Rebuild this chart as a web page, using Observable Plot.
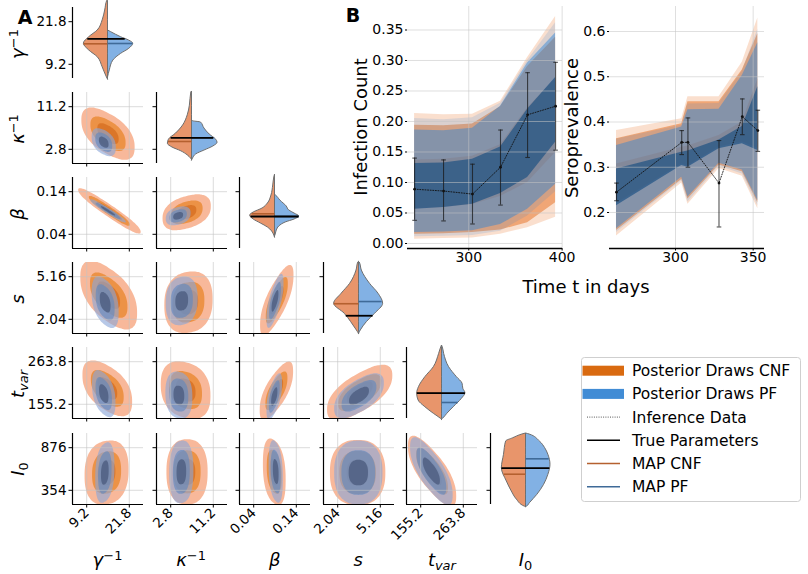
<!DOCTYPE html>
<html>
<head>
<meta charset="utf-8">
<script src="https://cdn.jsdelivr.net/npm/d3@7"></script>
<script src="https://cdn.jsdelivr.net/npm/@observablehq/plot@0.6"></script>
<style>
  html, body { margin: 0; padding: 0; background: #fff; }
  #fig { position: relative; width: 808px; height: 574px; overflow: hidden;
         font-family: "DejaVu Sans", sans-serif; color: #000; }
  .lbl { position: absolute; white-space: nowrap; line-height: 1; }
  .lbl sup { font-size: 0.72em; vertical-align: 0.5em; font-style: normal; line-height: 0; }
  .lbl sub { font-size: 0.72em; vertical-align: -0.3em; line-height: 0; }
</style>
</head>
<body>
<div id="fig"></div>
<script>
// ---------------------------------------------------------------------------
// Parameters of the SIR-type model (corner plot, panel A)
// ---------------------------------------------------------------------------
const paramNames  = ["<i>γ</i><sup>−1</sup>", "<i>κ</i><sup>−1</sup>", "<i>β</i>", "<i>s</i>",
                     "<i>t</i><sub><i>var</i></sub>", "<i>I</i><sub>0</sub>"];
const paramDomains = [[5, 26], [0, 14], [0.00667, 0.17333], [1, 6.2], [119, 300], [180, 1050]];
const paramTicks   = [[9.2, 21.8], [2.8, 11.2], [0.04, 0.14], [2.04, 5.16], [155.2, 263.8], [354, 876]];
const paramTickLabels = [["9.2", "21.8"], ["2.8", "11.2"], ["0.04", "0.14"], ["2.04", "5.16"],
                         ["155.2", "263.8"], ["354", "876"]];

// marginal posterior densities: [value, half width] for each parameter
const gammaCNF = [[28.3, 0], [28.0, 0.02], [25.1, 0.08], [22.2, 0.15], [19.2, 0.29], [17.2, 0.53], [15.3, 0.68],
                  [13.3, 0.53], [11.3, 0.29], [8.3, 0.15], [5.3, 0.03], [4.7, 0]];
const gammaPF  = [[19.2, 0], [18.7, 0.09], [17.2, 0.37], [16.2, 0.6], [15.3, 0.71], [13.8, 0.6], [12.3, 0.37],
                  [10.3, 0.15], [7.4, 0.05], [5.3, 0]];
const kappaCNF = [[14.2, 0], [14.0, 0.02], [11.4, 0.06], [9.5, 0.12], [7.5, 0.25], [5.9, 0.45], [4.7, 0.65],
                  [3.9, 0.68], [3.15, 0.55], [2.4, 0.3], [1.6, 0.12], [1.0, 0.03], [0.7, 0]];
const kappaPF  = [[8.5, 0], [8.3, 0.05], [8.1, 0.25], [6.9, 0.35], [5.7, 0.5], [4.7, 0.68], [4.1, 0.72],
                  [3.35, 0.6], [2.55, 0.35], [1.8, 0.12], [1.0, 0.03], [0.6, 0]];
const betaCNF  = [[0.18, 0], [0.1733, 0.02], [0.1546, 0.05], [0.131, 0.1], [0.1123, 0.2], [0.1006, 0.35],
                  [0.0912, 0.6], [0.0841, 0.7], [0.0747, 0.6], [0.0654, 0.4], [0.056, 0.2], [0.0466, 0.08],
                  [0.0372, 0.02], [0.0325, 0]];
const betaPF   = [[0.133, 0], [0.131, 0.03], [0.1193, 0.15], [0.1053, 0.33], [0.096, 0.4], [0.0888, 0.55],
                  [0.0818, 0.68], [0.0747, 0.55], [0.0677, 0.3], [0.0583, 0.12], [0.049, 0.05],
                  [0.0395, 0.02], [0.035, 0]];
const sCNF     = [[6.25, 0], [6.2, 0.02], [5.61, 0.07], [4.64, 0.25], [3.91, 0.49], [3.18, 0.7], [2.44, 0.4],
                  [1.83, 0.22], [1.22, 0.06], [0.98, 0]];
const sPF      = [[6.25, 0], [6.2, 0.02], [5.61, 0.08], [4.64, 0.31], [3.91, 0.55], [3.18, 0.68], [2.44, 0.45],
                  [1.83, 0.22], [1.22, 0.05], [0.98, 0]];
const tVarCNF  = [[305, 0], [300.8, 0.02], [283.9, 0.08], [249.8, 0.23], [224.3, 0.47], [198.8, 0.65],
                  [182, 0.7], [164.9, 0.66], [147.8, 0.47], [131, 0.23], [118.3, 0.03], [116, 0]];
const tVarPF   = [[305, 0], [300.8, 0.02], [283.9, 0.06], [249.8, 0.2], [224.3, 0.42], [207.5, 0.58],
                  [194.7, 0.6], [183.5, 0.66], [169.2, 0.56], [147.8, 0.33], [131, 0.15], [118.3, 0.03], [116, 0]];
const i0CNF    = [[1050, 0], [1038, 0.1], [992, 0.36], [952, 0.56], [789, 0.62], [625, 0.68], [462, 0.54],
                  [339, 0.4], [241, 0.26], [155, 0.04], [150, 0]];
const i0PF     = [[1050, 0], [1038, 0.1], [952, 0.39], [870, 0.54], [789, 0.63], [666, 0.69], [544, 0.63],
                  [421, 0.51], [299, 0.32], [196, 0.11], [155, 0.03], [150, 0]];
const densitiesCNF = [gammaCNF, kappaCNF, betaCNF, sCNF, tVarCNF, i0CNF];
const densitiesPF  = [gammaPF, kappaPF, betaPF, sPF, tVarPF, i0PF];

// true parameters and maximum a posteriori estimates
const trueValues = [16.7, 5.07, 0.0818, 2.30, 183.5, 625];
const mapCNF     = [15.26, 4.34, 0.0881, 3.18, 183.5, 551];
const mapPF      = [15.35, 5.07, 0.0818, 3.34, 159.8, 740];

// pairwise posterior contours: [row, col, centre x, centre y, spread x, spread y, correlation]
const contoursCNF = [
  [1, 0, 15.5, 5.88, 7.88, 4.9, -0.55],
  [2, 0, 15.92, 0.095, 9.24, 0.0517, -0.95],
  [2, 1, 5.95, 0.0917, 4.76, 0.0408, 0.35],
  [3, 0, 15.71, 3.81, 8.4, 2.39, -0.55],
  [3, 1, 6.3, 3.29, 4.76, 2.24, 0.1],
  [3, 2, 0.0942, 3.44, 0.0392, 2.44, 0.75],
  [4, 0, 15.29, 195.9, 7.35, 67.9, -0.5],
  [4, 1, 5.74, 191.4, 4.9, 72.4, -0.2],
  [4, 2, 0.0933, 189.6, 0.0392, 70.6, 0.7],
  [4, 3, 3.65, 185.1, 2.39, 67, 0.65],
  [5, 0, 15.08, 571.5, 6.51, 391.5, 0.1],
  [5, 1, 6.02, 580, 4.06, 400, 0],
  [5, 2, 0.0883, 580, 0.0267, 400, -0.25],
  [5, 3, 3.5, 571.5, 2.03, 400, 0],
  [5, 4, 184.2, 589, 61.5, 409, -0.75]
];
const contoursPF = [
  [1, 0, 14.24, 4.2, 3.57, 2.66, -0.4],
  [2, 0, 15.5, 0.095, 5.25, 0.0267, -0.96],
  [2, 1, 4.27, 0.0833, 2.45, 0.0217, 0.3],
  [3, 0, 14.66, 3.29, 3.99, 1.82, -0.4],
  [3, 1, 4.97, 3.39, 3.15, 1.77, 0.1],
  [3, 2, 0.09, 3.39, 0.02, 1.87, 0.7],
  [4, 0, 14.24, 182.4, 3.47, 57.9, -0.4],
  [4, 1, 4.41, 178.7, 2.66, 59.7, -0.1],
  [4, 2, 0.0883, 175.1, 0.0183, 56.1, 0.6],
  [4, 3, 3.6, 176.9, 1.82, 54.3, 0.6],
  [5, 0, 14.56, 571.5, 2.84, 365.4, 0.2],
  [5, 1, 4.9, 580, 2.38, 383, 0.05],
  [5, 2, 0.0917, 584, 0.0167, 374, -0.25],
  [5, 3, 3.55, 571.5, 1.77, 391.5, 0],
  [5, 4, 182.4, 589, 54.3, 391.5, -0.75]
];

// ---------------------------------------------------------------------------
// Posterior predictive of the observables (panel B)
// ---------------------------------------------------------------------------
const infTimes  = [242, 273, 304, 334, 363, 393];
const infObs    = [0.089, 0.086, 0.081, 0.125, 0.211, 0.225];
const infObsLo  = [0.038, 0.037, 0.032, 0.063, 0.141, 0.153];
const infObsHi  = [0.140, 0.137, 0.130, 0.186, 0.280, 0.297];
const infCnf95Lo = [0.007, 0.008, 0.009, 0.015, 0.026, 0.043];
const infCnf95Hi = [0.213, 0.211, 0.212, 0.233, 0.305, 0.372];
const infCnf90Lo = [0.015, 0.016, 0.018, 0.022, 0.034, 0.067];
const infCnf90Hi = [0.194, 0.193, 0.196, 0.224, 0.290, 0.338];
const infCnf50Lo = [0.057, 0.059, 0.064, 0.077, 0.100, 0.149];
const infCnf50Hi = [0.137, 0.138, 0.143, 0.162, 0.222, 0.270];
const infPf95Lo  = [0.011, 0.012, 0.013, 0.020, 0.045, 0.085];
const infPf95Hi  = [0.205, 0.203, 0.206, 0.230, 0.300, 0.362];
const infPf90Lo  = [0.018, 0.019, 0.021, 0.031, 0.056, 0.097];
const infPf90Hi  = [0.186, 0.185, 0.189, 0.225, 0.296, 0.345];
const infPf50Lo  = [0.056, 0.059, 0.0645, 0.082, 0.108, 0.166];
const infPf50Hi  = [0.131, 0.132, 0.138, 0.158, 0.220, 0.272];
const infYTicks  = [0, 0.05, 0.10, 0.15, 0.20, 0.25, 0.30, 0.35];

const seroTimes  = [262, 304, 308, 328, 343, 353];
const seroObs    = [0.245, 0.355, 0.355, 0.265, 0.412, 0.381];
const seroObsLo  = [0.226, 0.328, 0.300, 0.168, 0.372, 0.335];
const seroObsHi  = [0.265, 0.381, 0.409, 0.359, 0.451, 0.426];
const seroCnf95Lo = [0.148, 0.265, 0.218, 0.297, 0.280, 0.208];
const seroCnf95Hi = [0.381, 0.407, 0.456, 0.456, 0.532, 0.630];
const seroCnf90Lo = [0.160, 0.273, 0.230, 0.305, 0.290, 0.222];
const seroCnf90Hi = [0.363, 0.396, 0.445, 0.445, 0.515, 0.595];
const seroCnf50Lo = [0.220, 0.307, 0.303, 0.345, 0.356, 0.342];
const seroCnf50Hi = [0.307, 0.344, 0.347, 0.370, 0.400, 0.495];
const seroPf95Lo  = [0.156, 0.270, 0.223, 0.302, 0.285, 0.215];
const seroPf95Hi  = [0.362, 0.393, 0.440, 0.441, 0.512, 0.605];
const seroPf90Lo  = [0.164, 0.278, 0.234, 0.309, 0.294, 0.226];
const seroPf90Hi  = [0.348, 0.389, 0.427, 0.428, 0.503, 0.575];
const seroPf50Lo  = [0.215, 0.304, 0.300, 0.341, 0.352, 0.337];
const seroPf50Hi  = [0.296, 0.333, 0.336, 0.360, 0.390, 0.478];
const seroYTicks  = [0.2, 0.3, 0.4, 0.5, 0.6];

const legendLabels = ["Posterior Draws CNF", "Posterior Draws PF", "Inference Data",
                      "True Parameters", "MAP CNF", "MAP PF"];

// ---------------------------------------------------------------------------
// Styling
// ---------------------------------------------------------------------------
const FONT = "DejaVu Sans, sans-serif";
const CNF_COLOR = "#d96a10", PF_COLOR = "#418cd5";
const VIOLIN_CNF = "#e8956b", VIOLIN_PF = "#82b1e4", VIOLIN_EDGE = "#6f6f6f";
const MAP_CNF_COLOR = "#b5602f", MAP_PF_COLOR = "#3f6a98";
const GRID = "#c4c4c4";
const CNF_LEVELS = [{k: 1, fill: "#f6a078", opacity: 0.75},
                    {k: 0.66, fill: "#e8862a", opacity: 0.75},
                    {k: 0.4, fill: "#d46b1c", opacity: 0.7}];
const PF_LEVELS  = [{k: 1, fill: "#8ba6d9", opacity: 0.62},
                    {k: 0.7, fill: "#5d87bf", opacity: 0.6},
                    {k: 0.4, fill: "#4a5a7c", opacity: 0.75}];

const fig = document.getElementById("fig");

function put(node, left, top) {
  node.style.position = "absolute";
  node.style.left = left + "px";
  node.style.top = top + "px";
  fig.appendChild(node);
  return node;
}

function label(html, cx, cy, size, rotate = 0, weight = "normal") {
  const d = document.createElement("div");
  d.className = "lbl";
  d.innerHTML = html;
  d.style.fontSize = size + "px";
  d.style.fontWeight = weight;
  d.style.left = cx + "px";
  d.style.top = cy + "px";
  d.style.transform = `translate(-50%, -50%) rotate(${rotate}deg)`;
  fig.appendChild(d);
}

// half width of a density profile at value v (linear between samples)
function widthAt(profile, v) {
  for (let i = 0; i < profile.length - 1; i++) {
    const [v0, w0] = profile[i], [v1, w1] = profile[i + 1];
    if ((v - v0) * (v - v1) <= 0) return v0 === v1 ? Math.max(w0, w1) : w0 + (w1 - w0) * (v - v0) / (v1 - v0);
  }
  return 0;
}

// closed contour outline of a correlated 2-D spread, scaled by level k
function contourOutline([, , cx, cy, sx, sy, rho], k) {
  const q = Math.sqrt(1 - rho * rho), n = 2.4, pts = [];
  for (let i = 0; i < 72; i++) {
    const a = 2 * Math.PI * i / 72, c = Math.cos(a), s = Math.sin(a);
    const u = Math.sign(c) * Math.abs(c) ** (2 / n), w = Math.sign(s) * Math.abs(s) ** (2 / n);
    pts.push({x: cx + k * sx * u, y: cy + k * sy * (rho * u + q * w)});
  }
  return pts;
}

// ---------------------------------------------------------------------------
// Panel A: corner plot
// ---------------------------------------------------------------------------
const FRAME = 71, PAD = 8;
const colLeft = c => 72 + 83.6 * c;
const rowTop = r => 7 + 85.1 * r;
const plotStyle = {fontFamily: FONT, fontSize: "13.5px", background: "transparent", overflow: "visible", color: "#000"};

function tickFormatter(i) {
  const m = new Map(paramTicks[i].map((v, j) => [v, paramTickLabels[i][j]]));
  return d => m.get(d);
}

function cornerPanel(r, c) {
  const diag = r === c;
  const xDomain = diag ? [-1, 1] : paramDomains[c];
  const yDomain = paramDomains[r];
  const marks = [];

  if (diag) {
    const cnf = densitiesCNF[r].map(([v, w]) => ({v, w})).sort((a, b) => a.v - b.v);
    const pf = densitiesPF[r].map(([v, w]) => ({v, w})).sort((a, b) => a.v - b.v);
    marks.push(Plot.areaX(cnf, {y: "v", x1: d => -d.w, x2: 0, fill: VIOLIN_CNF, stroke: VIOLIN_EDGE,
                                strokeWidth: 1, curve: "monotone-y"}));
    marks.push(Plot.areaX(pf, {y: "v", x1: 0, x2: d => d.w, fill: VIOLIN_PF, stroke: VIOLIN_EDGE,
                               strokeWidth: 1, curve: "monotone-y"}));
    const mc = mapCNF[r], mp = mapPF[r], tv = trueValues[r];
    marks.push(Plot.ruleY([mc], {x1: -widthAt(densitiesCNF[r], mc), x2: 0, stroke: MAP_CNF_COLOR, strokeWidth: 1.6}));
    marks.push(Plot.ruleY([mp], {x1: 0, x2: widthAt(densitiesPF[r], mp), stroke: MAP_PF_COLOR, strokeWidth: 1.6}));
    marks.push(Plot.ruleY([tv], {x1: -widthAt(densitiesCNF[r], tv), x2: widthAt(densitiesPF[r], tv),
                                 stroke: "#000", strokeWidth: 1.8}));
    marks.push(Plot.ruleX([-1], {stroke: "#000", strokeWidth: 1.2}));
  } else {
    const cCNF = contoursCNF.find(d => d[0] === r && d[1] === c);
    const cPF = contoursPF.find(d => d[0] === r && d[1] === c);
    for (const L of CNF_LEVELS)
      marks.push(Plot.line(contourOutline(cCNF, L.k), {x: "x", y: "y", fill: L.fill, fillOpacity: L.opacity,
                                                      stroke: "none", curve: "catmull-rom-closed", clip: true}));
    for (const L of PF_LEVELS)
      marks.push(Plot.line(contourOutline(cPF, L.k), {x: "x", y: "y", fill: L.fill, fillOpacity: L.opacity,
                                                     stroke: "none", curve: "catmull-rom-closed", clip: true}));
    marks.push(Plot.gridX({ticks: paramTicks[c], stroke: GRID, strokeOpacity: 0.6, strokeWidth: 1}));
    marks.push(Plot.gridY({ticks: paramTicks[r], stroke: GRID, strokeOpacity: 0.6, strokeWidth: 1}));
    marks.push(Plot.ruleX([xDomain[0]], {stroke: "#000", strokeWidth: 1.2}));
    marks.push(Plot.ruleY([yDomain[0]], {stroke: "#000", strokeWidth: 1.2}));
    marks.push(Plot.axisX({ticks: paramTicks[c], tickSize: 3.5, tickPadding: 2.5, label: null,
                           tickRotate: r === 5 ? -45 : 0,
                           tickFormat: r === 5 ? tickFormatter(c) : () => ""}));
  }
  marks.push(Plot.axisY({ticks: paramTicks[r], tickSize: 3.5, tickPadding: 2.5, label: null,
                         tickFormat: c === 0 ? tickFormatter(r) : () => ""}));

  const svg = Plot.plot({
    width: FRAME + 2 * PAD, height: FRAME + 2 * PAD, margin: PAD,
    x: {domain: xDomain, axis: null, label: null},
    y: {domain: yDomain, axis: null, label: null},
    style: plotStyle,
    marks
  });
  put(svg, colLeft(c) - PAD, rowTop(r) - PAD);
}

for (let r = 0; r < 6; r++) for (let c = 0; c <= r; c++) cornerPanel(r, c);

// parameter names along the left and bottom
for (let i = 0; i < 6; i++) {
  label(paramNames[i], 18, rowTop(i) + FRAME / 2 + 1, 18, -90);
  label(paramNames[i], colLeft(i) + FRAME / 2, 560, 18);
}

// ---------------------------------------------------------------------------
// Panel B: posterior predictive bands with the inference data
// ---------------------------------------------------------------------------
const capSymbol = {draw(ctx, size) { const h = Math.sqrt(size / Math.PI); ctx.moveTo(-h, 0); ctx.lineTo(h, 0); }};

function seriesPanel(o) {
  const rows = o.times.map((t, i) => ({t, obs: o.obs[i], lo: o.lo[i], hi: o.hi[i]}));
  const bands = [
    [o.cnf95Lo, o.cnf95Hi, "#e66e1e", 0.22],
    [o.cnf90Lo, o.cnf90Hi, "#e66e1e", 0.5],
    [o.cnf50Lo, o.cnf50Hi, "#e66e1e", 0.35],
    [o.pf95Lo,  o.pf95Hi,  "#2882d7", 0.15],
    [o.pf90Lo,  o.pf90Hi,  "#2882d7", 0.45],
    [o.pf50Lo,  o.pf50Hi,  "#0e477e", 0.6]
  ];
  const marks = bands.map(([lo, hi, fill, op]) =>
    Plot.areaY(o.times.map((t, i) => ({t, lo: lo[i], hi: hi[i]})),
               {x: "t", y1: "lo", y2: "hi", fill, fillOpacity: op}));
  marks.push(
    Plot.gridY({ticks: o.yTicks, stroke: GRID, strokeOpacity: 0.55, strokeWidth: 1}),
    Plot.gridX({ticks: o.xTicks, stroke: GRID, strokeOpacity: 0.55, strokeWidth: 1}),
    Plot.ruleY([o.yDomain[0]], {stroke: "#000", strokeWidth: 1.3}),
    Plot.line(rows, {x: "t", y: "obs", stroke: "#111", strokeWidth: 0.9, strokeDasharray: "1,1.6"}),
    Plot.ruleX(rows, {x: "t", y1: "lo", y2: "hi", stroke: "#1a1a1a", strokeOpacity: 0.75, strokeWidth: 1.1}),
    Plot.dot(rows, {x: "t", y: "lo", symbol: capSymbol, r: 2.3, fill: "none", stroke: "#1a1a1a", strokeOpacity: 0.75, strokeWidth: 1.1}),
    Plot.dot(rows, {x: "t", y: "hi", symbol: capSymbol, r: 2.3, fill: "none", stroke: "#1a1a1a", strokeOpacity: 0.75, strokeWidth: 1.1}),
    Plot.dot(rows, {x: "t", y: "obs", r: 1.4, fill: "#111", stroke: "none"}),
    Plot.axisY({ticks: o.yTicks, tickFormat: o.yFormat, tickSize: 2, tickPadding: 2, label: null, fontSize: 14}),
    Plot.axisX({ticks: o.xTicks, tickSize: 2.5, tickPadding: 1.5, label: null, fontSize: 14})
  );
  const ml = 45, mr = 8, mt = 4, mb = 24;
  const svg = Plot.plot({
    width: o.frameWidth + ml + mr, height: o.frameHeight + mt + mb,
    marginLeft: ml, marginRight: mr, marginTop: mt, marginBottom: mb,
    x: {domain: o.xDomain, axis: null, label: null},
    y: {domain: o.yDomain, axis: null, label: null},
    style: {...plotStyle, fontSize: "14px"},
    marks
  });
  put(svg, o.left - ml, o.top - mt);
}

seriesPanel({
  times: infTimes, obs: infObs, lo: infObsLo, hi: infObsHi,
  cnf95Lo: infCnf95Lo, cnf95Hi: infCnf95Hi, cnf90Lo: infCnf90Lo, cnf90Hi: infCnf90Hi,
  cnf50Lo: infCnf50Lo, cnf50Hi: infCnf50Hi, pf95Lo: infPf95Lo, pf95Hi: infPf95Hi,
  pf90Lo: infPf90Lo, pf90Hi: infPf90Hi, pf50Lo: infPf50Lo, pf50Hi: infPf50Hi,
  xDomain: [234.4, 400.4], yDomain: [-0.0082, 0.3885], yTicks: infYTicks, yFormat: d3.format(".2f"),
  xTicks: [300, 400], left: 407, top: 6, frameWidth: 155, frameHeight: 242
});
seriesPanel({
  times: seroTimes, obs: seroObs, lo: seroObsLo, hi: seroObsHi,
  cnf95Lo: seroCnf95Lo, cnf95Hi: seroCnf95Hi, cnf90Lo: seroCnf90Lo, cnf90Hi: seroCnf90Hi,
  cnf50Lo: seroCnf50Lo, cnf50Hi: seroCnf50Hi, pf95Lo: seroPf95Lo, pf95Hi: seroPf95Hi,
  pf90Lo: seroPf90Lo, pf90Hi: seroPf90Hi, pf50Lo: seroPf50Lo, pf50Hi: seroPf50Hi,
  xDomain: [257.5, 357.3], yDomain: [0.1204, 0.6553], yTicks: seroYTicks, yFormat: d3.format(".1f"),
  xTicks: [300, 350], left: 609, top: 6, frameWidth: 155, frameHeight: 242
});

label("Infection Count", 361, 127, 18, -90);
label("Seroprevalence", 572, 128, 18, -90);
label("Time t in days", 586, 287, 18);

// panel letters
label("A", 25, 17, 19, 0, "bold");
label("B", 353, 15, 19, 0, "bold");

// ---------------------------------------------------------------------------
// Legend
// ---------------------------------------------------------------------------
{
  const w = 220, h = 145;
  const svg = d3.create("svg").attr("width", w).attr("height", h)
    .style("font-family", FONT).style("font-size", "15.5px").style("overflow", "visible");
  svg.append("rect").attr("x", 0.5).attr("y", 0.5).attr("width", w - 1).attr("height", h - 1)
    .attr("rx", 3).attr("fill", "#fff").attr("fill-opacity", 0.85).attr("stroke", "#cfcfcf");
  const rowY = i => 13.7 + 23.2 * i;
  const swatches = [
    g => g.append("rect").attr("x", 1.5).attr("y", -5).attr("width", 41.5).attr("height", 10).attr("fill", CNF_COLOR),
    g => g.append("rect").attr("x", 1.5).attr("y", -5).attr("width", 41.5).attr("height", 10).attr("fill", PF_COLOR),
    g => g.append("line").attr("x1", 6).attr("x2", 39).attr("stroke", "#555").attr("stroke-width", 1).attr("stroke-dasharray", "1,1.3"),
    g => g.append("line").attr("x1", 6).attr("x2", 39).attr("stroke", "#000").attr("stroke-width", 1.5),
    g => g.append("line").attr("x1", 6).attr("x2", 39).attr("stroke", MAP_CNF_COLOR).attr("stroke-width", 1.5),
    g => g.append("line").attr("x1", 6).attr("x2", 39).attr("stroke", MAP_PF_COLOR).attr("stroke-width", 1.5)
  ];
  legendLabels.forEach((text, i) => {
    const g = svg.append("g").attr("transform", `translate(0,${rowY(i)})`);
    swatches[i](g);
    g.append("text").attr("x", 51).attr("dy", "0.35em").text(text);
  });
  put(svg.node(), 581, 357);
}
</script>
</body>
</html>
